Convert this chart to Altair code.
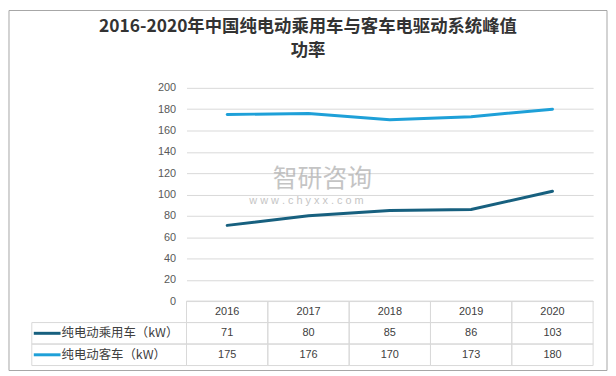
import altair as alt
import pandas as pd

years = ["2016", "2017", "2018", "2019", "2020"]
series_names = ["纯电动乘用车（kW）", "纯电动客车（kW）"]
passenger = [71, 80, 85, 86, 103]
bus = [175, 176, 170, 173, 180]
colors = ["#17607F", "#1EA0D8"]
y_ticks = [0, 20, 40, 60, 80, 100, 120, 140, 160, 180, 200]
title_lines = ["2016-2020年中国纯电动乘用车与客车电驱动系统峰值", "功率"]
watermark_name = "智研咨询"
watermark_url = "w w w . c h y x x . c o m"

rows = ["year"] + series_names

long_df = pd.DataFrame(
    [{"year": y, "series": series_names[0], "value": v} for y, v in zip(years, passenger)]
    + [{"year": y, "series": series_names[1], "value": v} for y, v in zip(years, bus)]
)

table_df = pd.DataFrame(
    [{"year": y, "row": "year", "label": y} for y in years]
    + [{"year": y, "row": series_names[0], "label": str(v)} for y, v in zip(years, passenger)]
    + [{"year": y, "row": series_names[1], "label": str(v)} for y, v in zip(years, bus)]
)
legend_df = pd.DataFrame({"row": series_names, "label": series_names})

W, H = 410, 215
FONT = "Liberation Sans"
CJK = "Noto Sans CJK SC"
GRID = "#D9D9D9"

x_point = alt.X("year:O", sort=years, axis=None,
                scale=alt.Scale(type="point", padding=0.5, domain=years))
y_enc = alt.Y("value:Q", scale=alt.Scale(domain=[0, 200], nice=False),
              axis=alt.Axis(values=y_ticks, title=None, grid=True, gridColor=GRID,
                            gridWidth=1, domain=False, ticks=False, labelPadding=11,
                            labelOverlap=False, labelFlush=False,
                            labelFont=FONT, labelFontSize=11, labelColor="#595959"))
color_scale = alt.Scale(domain=series_names, range=colors)

frame = alt.Chart(pd.DataFrame({"k": [0]})).mark_rect(
    fill="transparent", stroke="#A6A6A6", strokeWidth=1
).encode(x=alt.value(-179), x2=alt.value(424), y=alt.value(-78), y2=alt.value(285))

lines = alt.Chart(long_df).mark_line(strokeWidth=3, strokeCap="round").encode(
    x=x_point,
    y=y_enc,
    color=alt.Color("series:N", scale=color_scale, legend=None),
)

wm1 = alt.Chart(pd.DataFrame({"t": [watermark_name]})).mark_text(
    font=CJK, fontSize=25, color="#9E9E9E", opacity=0.6, align="center", baseline="middle"
).encode(x=alt.value(137), y=alt.value(92), text="t:N")
wm2 = alt.Chart(pd.DataFrame({"t": [watermark_url]})).mark_text(
    font=FONT, fontSize=11, color="#9E9E9E", opacity=0.6, align="center", baseline="middle"
).encode(x=alt.value(121), y=alt.value(114), text="t:N")

top = alt.layer(frame, lines, wm1, wm2).properties(width=W, height=H)

x_band = alt.X("year:O", sort=years, axis=None,
               scale=alt.Scale(type="band", paddingInner=0, paddingOuter=0, domain=years))
y_band = alt.Y("row:N", sort=rows, axis=None,
               scale=alt.Scale(type="band", paddingInner=0, paddingOuter=0, domain=rows))

cells = alt.Chart(table_df).mark_rect(fill="transparent", stroke=GRID, strokeWidth=1).encode(
    x=x_band, y=y_band)
cell_text = alt.Chart(table_df).mark_text(font=FONT, fontSize=11, color="#404040").encode(
    x=x_band, y=y_band, text="label:N")
leg_cells = alt.Chart(legend_df).mark_rect(fill="transparent", stroke=GRID, strokeWidth=1).encode(
    x=alt.value(-156), x2=alt.value(0), y=y_band)
leg_lines = alt.Chart(legend_df).mark_rule(strokeWidth=3).encode(
    x=alt.value(-154), x2=alt.value(-127), y=y_band,
    color=alt.Color("row:N", scale=color_scale, legend=None))
leg_text = alt.Chart(legend_df).mark_text(
    font=CJK, fontSize=12.5, color="#404040", align="left", baseline="middle"
).encode(x=alt.value(-126), y=y_band, text="label:N")

bottom = alt.layer(cells, cell_text, leg_cells, leg_lines, leg_text).properties(width=W, height=65)

chart = alt.vconcat(
    top, bottom, spacing=0, bounds="flush", padding=0,
    title=alt.TitleParams(title_lines, anchor="middle", frame="bounds", offset=-50,
                          font=CJK, fontSize=17.5, fontWeight="bold", color="#333333",
                          lineHeight=24),
).resolve_scale(color="shared").configure_view(strokeWidth=0)

chart.save("out.html", embed_options={"renderer": "svg", "actions": False})
